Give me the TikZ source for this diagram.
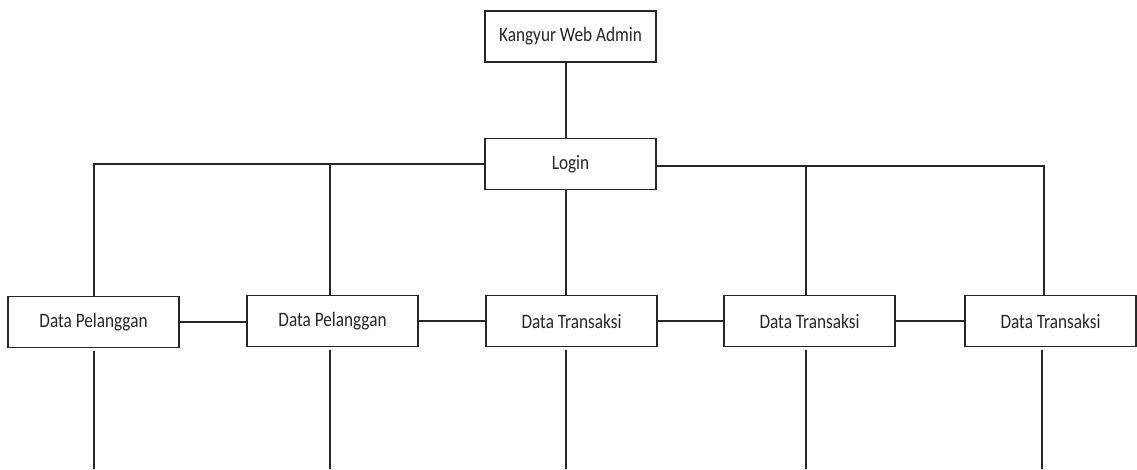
\documentclass[tikz,border=0pt]{standalone}
\usepackage{fontspec}
\setmainfont{Carlito}
\newfontfamily\boxfont[FakeStretch=0.84]{Carlito}
\begin{document}
\begin{tikzpicture}[x=1pt,y=-1pt,
  box/.style={draw=black!85,line width=1.4pt,fill=white,minimum width=171pt,minimum height=51pt,inner sep=0pt,font=\boxfont\fontsize{20.5}{24}\selectfont,text=black!85},
  conn/.style={draw=black!85,line width=1.3pt}]
\useasboundingbox (0,0) rectangle (1137,469);
\node[box] (top) at (570.5,36.5) {Kangyur Web Admin};
\node[box] (login) at (570.5,164) {Login};
\node[box] (p1) at (93.5,322) {Data Pelanggan};
\node[box] (p2) at (332.5,321) {Data Pelanggan};
\node[box] (t1) at (571.5,321) {Data Transaksi};
\node[box] (t2) at (809.5,321) {Data Transaksi};
\node[box] (t3) at (1050.5,321) {Data Transaksi};
\coordinate (b1) at (94,469);
\coordinate (b2) at (330,469);
\coordinate (b3) at (566,469);
\coordinate (b4) at (806,469);
\coordinate (b5) at (1042,469);
\draw[conn] (top.south -| 566,0) -- (login.north -| 566,0);
\draw[conn] (login.west) -| (p1.north -| 94,0);
\draw[conn] (330,164) -- (p2.north -| 330,0);
\draw[conn] (login.east |- 0,166) -| (t3.north -| 1044,0);
\draw[conn] (806,166) -- (t2.north -| 806,0);
\draw[conn] (login.south -| 566,0) -- (t1.north -| 566,0);
\draw[conn] (p1.east) -- (p1.east -| p2.west);
\draw[conn] (p2.east) -- (p2.east -| t1.west);
\draw[conn] (t1.east) -- (t1.east -| t2.west);
\draw[conn] (t2.east) -- (t2.east -| t3.west);
\draw[conn] ([yshift=-3pt]p1.south -| b1) -- (b1);
\draw[conn] ([yshift=-3pt]p2.south -| b2) -- (b2);
\draw[conn] ([yshift=-3pt]t1.south -| b3) -- (b3);
\draw[conn] ([yshift=-3pt]t2.south -| b4) -- (b4);
\draw[conn] ([yshift=-3pt]t3.south -| b5) -- (b5);
\end{tikzpicture}
\end{document}
